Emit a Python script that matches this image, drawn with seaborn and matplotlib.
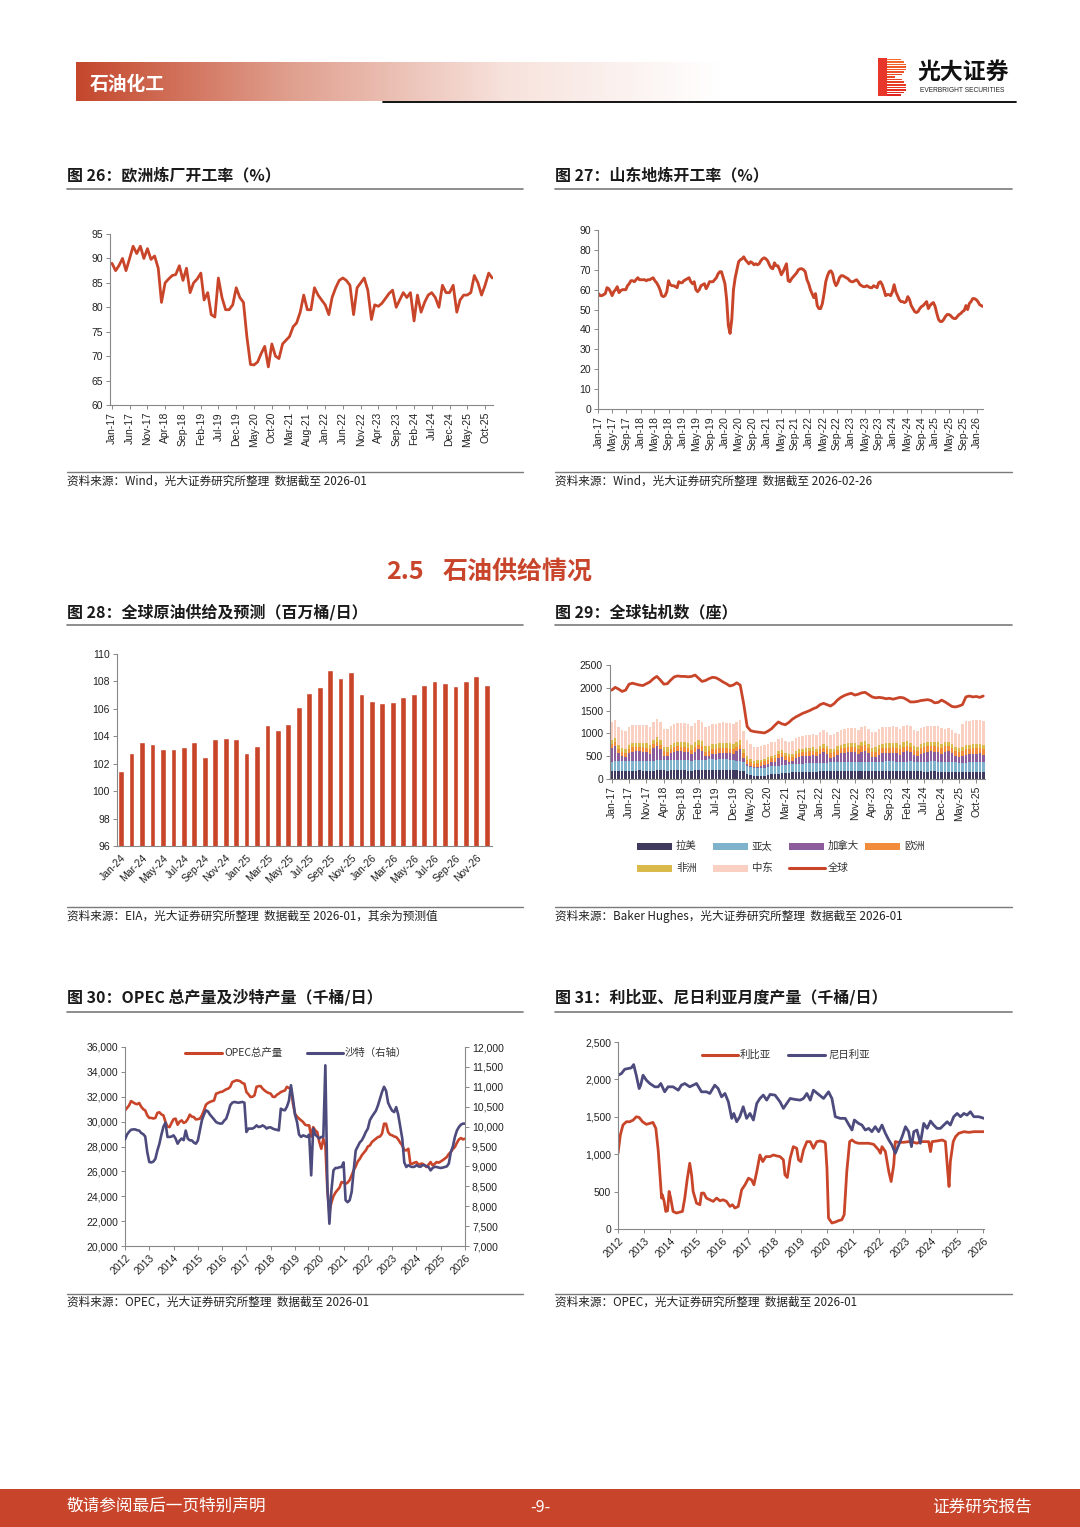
import numpy as np
import pandas as pd
import matplotlib
matplotlib.use('Agg')
import matplotlib.pyplot as plt
import matplotlib.dates as mdates
from matplotlib.patches import Rectangle
from matplotlib.lines import Line2D
from matplotlib.colors import LinearSegmentedColormap
import seaborn as sns

# ---------------- data ----------------
# Fig 26: European refinery utilisation (%), monthly from Jan-2017
eu_util = [89, 87.5, 88.5, 90, 87.5, 90, 92.5, 91, 92.5, 90, 92, 89.8,
           90.5, 88, 81, 85, 85.8, 86.5, 86.7, 88.5, 85.5, 88, 83, 85,
           85.8, 87, 81.5, 83, 78.5, 78, 86, 82, 79.5, 79.5, 80.5, 84,
           82, 81, 74, 68.3, 68.2, 68.8, 70.5, 72, 67.8, 72.5, 70, 69.5,
           72.5, 73.3, 74, 76, 76.8, 79, 82.5, 79.5, 79.5, 84, 82.5, 81.5,
           80.5, 78.5, 82, 84, 85.5, 86, 85.5, 84.5, 78.5, 84, 85, 86,
           83.5, 77.5, 80.5, 80.2, 80.8, 81.8, 82.8, 83.5, 80, 81.5, 83, 82,
           83, 77.2, 82.5, 79, 81, 82.5, 83, 82, 80, 84.5, 83, 83,
           84.5, 79, 81.5, 82.5, 82.5, 83, 86.5, 85, 82.5, 84.5, 87, 86]
eu_start = '2017-01-01'

# Fig 27: Shandong independent refinery utilisation (%), half-monthly readings Jan-2017 .. Feb-2026
sd_util = [58, 57, 57, 57.5, 58, 61, 60.5, 59, 57, 59, 60, 61.5, 58.5, 59.5, 60, 60, 60, 62, 63, 64.5,
           64.5, 64, 65, 66, 65, 65, 65, 65, 64.5, 65, 65, 65.5, 66, 64.5, 63.5, 62, 60, 57, 56.5, 57,
           59, 64.5, 62.5, 62, 62, 61.5, 61, 64, 63.5, 63.5, 64.5, 65, 65.5, 66, 64, 63, 64, 60, 59, 60,
           62, 62.5, 63, 60.5, 62, 64, 64, 64, 65, 66, 68, 69, 69, 66, 63, 55, 42, 38, 45, 60,
           66, 70, 74, 75, 75.5, 76.5, 75, 74, 73, 74, 73.5, 72.5, 73, 72.5, 73, 74.5, 75.5, 76, 75.5, 74.5,
           72.5, 71, 70.5, 73.5, 72, 72, 70, 67.5, 69, 71, 73, 64.5, 64, 65.5, 66.5, 67.5, 68.5, 70, 70.5, 70.5,
           70, 69, 65, 63, 60, 58, 56, 58, 52, 50.5, 50.5, 53, 58, 64, 67, 69, 69.5, 68, 64, 62,
           63.5, 66, 67, 67, 66.5, 66, 65.5, 64.5, 64, 64, 64.5, 65, 64, 62.5, 62, 61.5, 61.5, 62, 61.5, 61,
           61, 62, 61.5, 61, 63.5, 64, 62.5, 60, 57, 57.5, 57.5, 57, 59, 62.5, 59, 57, 55, 54, 54, 53.5,
           54, 56.5, 55, 52, 50.5, 49, 48.5, 49, 50.5, 51.5, 52, 53, 54, 50.5, 52, 53, 53.5, 51.5, 48, 45,
           44, 44, 45, 46.5, 47.5, 47.5, 47, 46, 45.5, 45.5, 46.5, 47.5, 48, 49, 49.5, 52, 50, 53, 54, 55.5,
           55.5, 55, 54, 52.5, 52, 51.5]
sd_start, sd_end = '2017-01-01', '2026-02-20'

# Fig 28: global crude supply and forecast (mb/d)
supply_months = ['Jan-24', 'Feb-24', 'Mar-24', 'Apr-24', 'May-24', 'Jun-24', 'Jul-24', 'Aug-24', 'Sep-24',
                 'Oct-24', 'Nov-24', 'Dec-24', 'Jan-25', 'Feb-25', 'Mar-25', 'Apr-25', 'May-25', 'Jun-25',
                 'Jul-25', 'Aug-25', 'Sep-25', 'Oct-25', 'Nov-25', 'Dec-25', 'Jan-26', 'Feb-26', 'Mar-26',
                 'Apr-26', 'May-26', 'Jun-26', 'Jul-26', 'Aug-26', 'Sep-26', 'Oct-26', 'Nov-26', 'Dec-26']
supply_vals = [101.5, 102.8, 103.55, 103.45, 103.1, 103.1, 103.2, 103.6, 102.5, 103.8, 103.9, 103.8,
               102.8, 103.3, 104.8, 104.45, 104.9, 106.15, 107.15, 107.6, 108.8, 108.25, 108.7, 107.1,
               106.6, 106.4, 106.5, 106.9, 107.1, 107.75, 108.0, 107.9, 107.7, 108.0, 108.4, 107.75]

# Fig 29: global rig count, monthly Jan-2017 .. Dec-2025
rig_latam = [180, 182, 185, 182, 178, 180, 182, 185, 188, 185, 180, 175,
             185, 188, 190, 190, 185, 188, 190, 192, 190, 188, 185, 180,
             195, 200, 202, 200, 205, 205, 202, 205, 208, 205, 200, 195,
             190, 185, 165, 110, 80, 65, 62, 68, 75, 88, 100, 110,
             120, 128, 135, 140, 145, 150, 150, 152, 158, 160, 162, 160,
             165, 168, 170, 172, 175, 175, 178, 178, 180, 178, 175, 172,
             172, 175, 175, 172, 170, 168, 170, 172, 172, 170, 168, 165,
             168, 170, 170, 168, 165, 165, 162, 162, 165, 165, 162, 160,
             160, 162, 160, 158, 155, 155, 152, 155, 155, 158, 158, 155]
rig_apac = [200, 202, 205, 205, 208, 210, 210, 212, 212, 215, 215, 212,
            215, 218, 220, 222, 222, 225, 222, 220, 222, 225, 224, 220,
            218, 220, 222, 225, 228, 228, 225, 225, 228, 225, 222, 218,
            215, 212, 200, 185, 178, 172, 170, 170, 172, 175, 178, 178,
            172, 175, 178, 178, 180, 182, 182, 185, 185, 188, 188, 185,
            185, 188, 190, 192, 192, 195, 195, 198, 198, 200, 200, 198,
            200, 202, 205, 205, 208, 210, 210, 212, 212, 215, 212, 210,
            212, 212, 215, 215, 218, 218, 218, 220, 220, 220, 218, 215,
            212, 210, 210, 208, 205, 205, 205, 208, 210, 210, 212, 210]
rig_canada = [300, 340, 170, 110, 100, 170, 210, 220, 210, 200, 200, 170,
              270, 320, 250, 95, 90, 150, 190, 210, 200, 190, 180, 140,
              190, 230, 190, 80, 70, 110, 130, 140, 145, 150, 145, 135,
              200, 250, 100, 30, 20, 20, 40, 50, 60, 70, 85, 90,
              170, 180, 100, 60, 70, 120, 150, 160, 160, 160, 170, 150,
              200, 230, 190, 100, 110, 160, 190, 200, 210, 210, 210, 180,
              230, 245, 180, 100, 100, 150, 180, 190, 190, 190, 190, 160,
              210, 230, 200, 140, 120, 170, 200, 220, 220, 210, 210, 180,
              230, 245, 200, 130, 120, 150, 180, 180, 190, 190, 190, 170]
rig_europe = [92, 95, 98, 95, 92, 90, 92, 95, 95, 98, 95, 92,
              92, 95, 95, 98, 100, 98, 95, 92, 95, 98, 100, 98,
              100, 102, 100, 98, 102, 105, 105, 102, 100, 98, 100, 102,
              100, 98, 95, 90, 85, 82, 80, 82, 85, 88, 90, 88,
              90, 92, 95, 98, 95, 95, 98, 100, 100, 102, 100, 98,
              100, 102, 105, 105, 108, 110, 108, 110, 112, 112, 110, 110,
              112, 115, 115, 118, 118, 120, 118, 115, 115, 118, 118, 115,
              118, 120, 120, 118, 118, 120, 122, 120, 118, 118, 120, 118,
              115, 115, 118, 118, 115, 112, 112, 115, 115, 118, 118, 115]
rig_africa = [80, 82, 82, 85, 85, 85, 88, 88, 90, 90, 90, 88,
              88, 90, 90, 92, 95, 95, 95, 98, 98, 100, 100, 98,
              105, 108, 110, 112, 115, 115, 115, 118, 115, 115, 112, 110,
              105, 108, 95, 80, 65, 58, 55, 52, 52, 55, 58, 60,
              60, 62, 65, 65, 68, 68, 70, 70, 72, 72, 75, 75,
              75, 78, 78, 80, 82, 85, 85, 85, 88, 90, 90, 88,
              90, 92, 92, 95, 95, 98, 98, 95, 95, 98, 98, 95,
              95, 92, 92, 90, 90, 90, 88, 88, 90, 90, 92, 90,
              90, 90, 88, 88, 90, 90, 92, 92, 95, 95, 95, 92]
rig_mideast = [395, 392, 390, 392, 395, 395, 398, 395, 392, 395, 398, 395,
               398, 400, 402, 405, 408, 410, 412, 415, 418, 420, 420, 420,
               425, 428, 430, 432, 435, 438, 440, 442, 445, 445, 445, 442,
               445, 450, 400, 350, 330, 315, 305, 300, 298, 295, 292, 290,
               265, 265, 268, 270, 272, 275, 278, 280, 285, 288, 290, 292,
               300, 305, 308, 310, 312, 315, 318, 320, 322, 325, 325, 325,
               330, 335, 340, 345, 350, 355, 360, 362, 365, 365, 365, 362,
               360, 358, 355, 352, 350, 352, 355, 355, 352, 350, 350, 348,
               300, 300, 302, 305, 310, 500, 520, 525, 525, 528, 530, 528]
rig_global = [1950, 2010, 1970, 1920, 1950, 2080, 2100, 2080, 2060, 2050, 2090, 2130,
              2200, 2250, 2170, 2080, 2090, 2170, 2240, 2260, 2250, 2250, 2240, 2250,
              2280, 2210, 2140, 2160, 2200, 2230, 2220, 2180, 2130, 2090, 2040, 2060,
              2110, 2060, 1650, 1150, 1060, 1040, 1030, 1020, 1010, 1050, 1100, 1180,
              1250, 1210, 1190, 1240, 1310, 1360, 1400, 1440, 1470, 1500, 1540, 1570,
              1630, 1660, 1630, 1600, 1650, 1730, 1790, 1830, 1860, 1880, 1840, 1860,
              1890, 1900, 1850, 1800, 1780, 1790, 1780, 1760, 1770, 1750, 1770, 1790,
              1780, 1740, 1690, 1690, 1700, 1720, 1730, 1740, 1720, 1670, 1680, 1730,
              1690, 1640, 1590, 1580, 1600, 1630, 1800, 1820, 1800, 1810, 1790, 1820]
rig_names = ['拉美', '亚太', '加拿大', '欧洲', '非洲', '中东', '全球']
rig_start = '2017-01-01'

# Fig 30: OPEC total and Saudi production (kb/d), monthly Jan-2012 .. Jan-2026
opec_total = [30900, 31100, 31300, 31650, 31550, 31450, 31400, 31500, 31200, 31000, 30900, 30500,
              30300, 30300, 30250, 30300, 30700, 30750, 30580, 30500, 29970, 29600, 29560, 29900,
              30200, 30240, 29750, 30000, 30100, 29900, 29970, 30200, 30560, 30400, 30370, 30180,
              30200, 30240, 30500, 30900, 31360, 31500, 31580, 31650, 31700, 32250, 32300, 32380,
              32400, 32500, 32600, 32650, 32800, 33180, 33250, 33320, 33300, 33240, 33100, 33050,
              32380, 32200, 31980, 32000, 32120, 32800, 32850, 32860, 32650, 32500, 32380, 32300,
              32250, 32000, 31980, 32150, 32250, 32380, 32450, 32500, 32800, 32700, 32650, 31440,
              30640, 30400, 30240, 30100, 29970, 29750, 29700, 29700, 28800, 29560, 29300, 29160,
              28360, 27820, 28630, 28100, 24500, 22730, 23500, 24000, 24300, 24500, 24700, 25140,
              25100, 25000, 25100, 25300, 25680, 26100, 26400, 26800, 27000, 27290, 27500, 27690,
              28000, 28090, 28360, 28500, 28630, 28760, 28800, 29030, 29830, 29830, 29160, 28950,
              28900, 28800, 28760, 28570, 28300, 28090, 27700, 27690, 27820, 26620, 26620, 26700,
              26750, 26540, 26600, 26620, 26500, 26350, 26550, 26750, 26480, 26600, 26750, 26700,
              26800, 26900, 27020, 27150, 27400, 27560, 27800, 27960, 28300, 28570, 28680, 28570,
              28630]
saudi = [9680, 9800, 9870, 9920, 9930, 9930, 9910, 9900, 9840, 9810, 9750, 9360,
         9110, 9100, 9120, 9190, 9400, 9570, 9800, 10000, 10100, 9740, 9740, 9750,
         9780, 9700, 9570, 9650, 9700, 9660, 9900, 9700, 9655, 9655, 9600, 9570,
         9650, 9900, 10160, 10300, 10410, 10380, 10300, 10240, 10180, 10115, 10090, 10075,
         10080, 10150, 10200, 10350, 10535, 10600, 10620, 10610, 10600, 10610, 10620, 10600,
         9865, 9950, 9950, 9950, 9980, 10030, 9990, 10000, 10030, 10000, 9950, 9980,
         9980, 9950, 9930, 9920, 9905, 10450, 10420, 10410, 10500, 10650, 11040, 10700,
         10300, 10115, 9800, 9740, 9780, 9760, 9740, 9800, 8775, 9950, 9800, 9750,
         9700, 9740, 9740, 11540, 8500, 7560, 8400, 8900, 8960, 8960, 8980, 8985,
         9100, 8150, 8100, 8150, 8360, 8900, 9400, 9500, 9600, 9655, 9750, 9865,
         9950, 10160, 10250, 10325, 10400, 10535, 10700, 10870, 11000, 10900, 10600, 10490,
         10400, 10365, 10490, 10300, 10000, 9700, 9100, 8985, 9030, 9000, 8985, 8990,
         9030, 9000, 8990, 9030, 9030, 9000, 8985, 8900, 8960, 8990, 8985, 8970,
         8960, 8970, 8985, 9000, 9070, 9360, 9500, 9740, 9900, 9990, 10050, 10075,
         10075]
years30 = [str(y) for y in range(2012, 2027)]

# Fig 31: Libya / Nigeria monthly production (kb/d), time in decimal years
libya_t = [2012.00, 2012.09, 2012.19, 2012.32, 2012.45, 2012.58, 2012.70, 2012.81, 2012.94, 2013.09,
           2013.22, 2013.34, 2013.45, 2013.54, 2013.60, 2013.67, 2013.70, 2013.77, 2013.83, 2013.90,
           2013.96, 2014.02, 2014.11, 2014.24, 2014.37, 2014.47, 2014.56, 2014.65, 2014.75, 2014.82,
           2014.88, 2015.01, 2015.14, 2015.20, 2015.29, 2015.39, 2015.52, 2015.65, 2015.78, 2015.91,
           2016.03, 2016.16, 2016.29, 2016.39, 2016.48, 2016.61, 2016.74, 2016.87, 2017.00, 2017.12,
           2017.21, 2017.32, 2017.44, 2017.55, 2017.67, 2017.83, 2017.96, 2018.08, 2018.21, 2018.34,
           2018.40, 2018.49, 2018.60, 2018.72, 2018.85, 2018.92, 2019.01, 2019.11, 2019.24, 2019.37,
           2019.49, 2019.62, 2019.75, 2019.88, 2019.95, 2020.01, 2020.07, 2020.20, 2020.33, 2020.45,
           2020.58, 2020.67, 2020.77, 2020.88, 2020.97, 2021.09, 2021.22, 2021.41, 2021.61, 2021.80,
           2021.99, 2022.06, 2022.12, 2022.25, 2022.38, 2022.47, 2022.57, 2022.63, 2022.76, 2022.95,
           2023.14, 2023.34, 2023.46, 2023.59, 2023.78, 2023.91, 2023.98, 2024.04, 2024.23, 2024.43,
           2024.55, 2024.64, 2024.69, 2024.74, 2024.85, 2024.94, 2025.06, 2025.26, 2025.45, 2025.64,
           2025.88, 2026.03]
libya_v = [1012, 1257, 1390, 1434, 1434, 1456, 1500, 1492, 1434, 1399,
           1412, 1425, 1345, 1057, 768, 413, 457, 369, 235, 244,
           502, 413, 235, 213, 226, 235, 413, 657, 879, 724,
           502, 346, 324, 480, 480, 413, 391, 369, 413, 377,
           391, 369, 302, 324, 280, 302, 524, 591, 679, 657,
           591, 768, 990, 901, 968, 968, 990, 977, 968, 924,
           724, 688, 946, 1101, 1079, 924, 901, 1057, 1168, 1168,
           1079, 1168, 1177, 1168, 1146, 813, 147, 80, 93, 111,
           124, 191, 768, 1168, 1190, 1159, 1146, 1146, 1146, 1132,
           1057, 1012, 1101, 1035, 768, 635, 857, 1168, 1159, 1159,
           1168, 1159, 1146, 1168, 1168, 1168, 1035, 1168, 1177, 1190,
           1168, 768, 568, 901, 1168, 1234, 1279, 1301, 1292, 1301,
           1301, 1301]
nigeria_t = [2012.00, 2012.13, 2012.26, 2012.38, 2012.51, 2012.60, 2012.70, 2012.81, 2012.87, 2012.96,
             2013.09, 2013.22, 2013.41, 2013.54, 2013.64, 2013.79, 2013.92, 2014.11, 2014.31, 2014.43,
             2014.56, 2014.75, 2015.01, 2015.20, 2015.39, 2015.52, 2015.71, 2015.84, 2015.97, 2016.10,
             2016.23, 2016.36, 2016.44, 2016.55, 2016.67, 2016.80, 2016.93, 2017.06, 2017.19, 2017.32,
             2017.44, 2017.57, 2017.70, 2017.83, 2018.02, 2018.21, 2018.34, 2018.47, 2018.60, 2018.79,
             2018.98, 2019.11, 2019.24, 2019.37, 2019.49, 2019.69, 2019.88, 2020.07, 2020.20, 2020.33,
             2020.52, 2020.71, 2020.84, 2020.97, 2021.06, 2021.22, 2021.35, 2021.48, 2021.61, 2021.73,
             2021.86, 2021.99, 2022.12, 2022.25, 2022.38, 2022.50, 2022.63, 2022.76, 2022.89, 2023.02,
             2023.14, 2023.25, 2023.34, 2023.46, 2023.59, 2023.72, 2023.85, 2023.98, 2024.10, 2024.23,
             2024.36, 2024.49, 2024.62, 2024.74, 2024.87, 2025.00, 2025.13, 2025.26, 2025.38, 2025.51,
             2025.64, 2025.83, 2026.03]
nigeria_v = [2056, 2078, 2136, 2145, 2154, 2198, 2056, 1878, 1923, 2056,
             1989, 1945, 1901, 1901, 1945, 1834, 1901, 1901, 1856, 1923,
             1945, 1901, 1945, 1834, 1834, 1812, 1923, 1878, 1767, 1812,
             1701, 1479, 1545, 1434, 1501, 1634, 1479, 1545, 1457, 1679,
             1745, 1790, 1723, 1799, 1790, 1701, 1612, 1679, 1745, 1732,
             1723, 1745, 1812, 1723, 1856, 1799, 1745, 1834, 1745, 1501,
             1479, 1479, 1399, 1323, 1457, 1412, 1390, 1323, 1345, 1301,
             1368, 1301, 1390, 1279, 1190, 1123, 1012, 1123, 1234, 1368,
             1301, 1101, 1301, 1323, 1146, 1412, 1345, 1443, 1390, 1345,
             1345, 1390, 1434, 1390, 1501, 1545, 1501, 1545, 1523, 1568,
             1501, 1501, 1479]
years31 = list(range(2012, 2027))

# ---------------- styling ----------------
RED = '#C9452A'
NAVY = '#4D4B7D'
GREY = '#808080'
STACK_COLORS = ['#403B5E', '#7FB3CB', '#8C5C9C', '#F08C3A', '#DBBA4C', '#FAD0C3']

sns.set_theme(style='ticks')
plt.rcParams['font.family'] = ['Liberation Sans', 'Noto Sans CJK SC', 'DejaVu Sans']
plt.rcParams['axes.unicode_minus'] = False
CJK = ['Noto Sans CJK SC', 'DejaVu Sans']

W, H = 1080, 1527
fig = plt.figure(figsize=(W / 100, H / 100), dpi=100)


def axpx(l, t, r, b):
    return fig.add_axes([l / W, 1 - b / H, (r - l) / W, (b - t) / H])


def ftext(x, y, s, **kw):
    kw.setdefault('va', 'center')
    kw.setdefault('family', CJK)
    fig.text(x / W, 1 - y / H, s, **kw)


def hline(x0, x1, y, color=GREY, lw=1.0):
    fig.add_artist(Line2D([x0 / W, x1 / W], [1 - y / H, 1 - y / H], color=color, lw=lw))


def style(ax, right=False):
    ax.set_facecolor('none')
    ax.grid(False)
    ax.spines['top'].set_visible(False)
    ax.spines['right'].set_visible(right)
    for s in ['left', 'bottom', 'right']:
        ax.spines[s].set_color('#888888')
        ax.spines[s].set_linewidth(0.8)
    ax.tick_params(axis='both', which='both', length=3, width=0.7, color='#888888',
                   labelsize=7.5, labelcolor='#222222', pad=2, direction='out')
    ax.set_xlabel('')
    ax.set_ylabel('')


def panel_frame(x0, x1, ytitle, yline, ysrc_line, ysrc, title, source):
    ftext(x0, ytitle, title, fontsize=11.5, fontweight='bold', color='#1a1a1a')
    hline(x0, x1, yline, color='#7a7a7a', lw=1.2)
    hline(x0, x1, ysrc_line, color='#7a7a7a', lw=1.0)
    ftext(x0, ysrc, source, fontsize=8.4, color='#222222')


# ---------------- header ----------------
axh = axpx(76, 62, 720, 101)
cmap = LinearSegmentedColormap.from_list('hdr', ['#C4472C', '#E0A08F', '#F7E2DC', '#FFFFFF'])
axh.imshow(np.linspace(0, 1, 256).reshape(1, -1), aspect='auto', cmap=cmap, extent=[0, 1, 0, 1])
axh.axis('off')
ftext(90, 84, '石油化工', fontsize=13.5, fontweight='bold', color='white')
hline(383, 1016, 102, color='black', lw=1.3)

# logo
fig.add_artist(Rectangle((878 / W, 1 - 96 / H), 9 / W, 38 / H, color='#E8362A', lw=0))
for k in range(15):
    y = 58.5 + k * 2.55
    frac = k / 14
    yc = 67 if y < 77 else 87
    r = 9.5
    d = min(1.0, abs(y + 0.6 - yc) / r)
    length = 8 + 11 * np.sqrt(max(0.0, 1 - d * d))
    col = (0.96 - 0.08 * frac, 0.42 - 0.28 * frac, 0.17 - 0.05 * frac)
    fig.add_artist(Rectangle((887 / W, 1 - (y + 1.5) / H), length / W, 1.5 / H, color=col, lw=0))
ftext(917, 73, '光大证券', fontsize=16.5, fontweight='bold', color='#111111')
ftext(920, 90, 'EVERBRIGHT SECURITIES', fontsize=4.8, color='#222222', family=['Liberation Sans'])

# ---------------- Fig 26 ----------------
panel_frame(67, 523, 175, 189, 472, 481, '图 26：欧洲炼厂开工率（%）',
            '资料来源：Wind，光大证券研究所整理  数据截至 2026-01')
ax = axpx(110, 234, 493, 405)
eu_dates = pd.date_range(eu_start, periods=len(eu_util), freq='MS')
sns.lineplot(x=eu_dates, y=eu_util, ax=ax, color=RED, linewidth=2.0)
style(ax)
ax.set_ylim(60, 95)
ax.set_yticks(range(60, 96, 5))
t26 = pd.date_range(eu_start, eu_dates[-1], freq='5MS')
ax.set_xticks(mdates.date2num(t26))
ax.set_xticklabels([d.strftime('%b-%y') for d in t26], rotation=90)
ax.set_xlim(mdates.date2num(pd.Timestamp('2016-12-15')), mdates.date2num(pd.Timestamp('2025-12-08')))

# ---------------- Fig 27 ----------------
panel_frame(555, 1012, 175, 189, 472, 481, '图 27：山东地炼开工率（%）',
            '资料来源：Wind，光大证券研究所整理  数据截至 2026-02-26')
ax = axpx(598, 230, 983, 409)
sd_dates = pd.date_range(sd_start, sd_end, periods=len(sd_util))
sns.lineplot(x=sd_dates, y=sd_util, ax=ax, color=RED, linewidth=2.1)
style(ax)
ax.set_ylim(0, 90)
ax.set_yticks(range(0, 91, 10))
t27 = pd.date_range(sd_start, '2026-01-01', freq='4MS')
ax.set_xticks(mdates.date2num(t27))
ax.set_xticklabels([d.strftime('%b-%y') for d in t27], rotation=90)
ax.set_xlim(mdates.date2num(pd.Timestamp('2016-12-28')), mdates.date2num(pd.Timestamp(sd_end)))

# ---------------- section title ----------------
ftext(386, 572, '2.5', fontsize=18, fontweight='bold', color='#C8452B')
ftext(443, 572, '石油供给情况', fontsize=18, fontweight='bold', color='#C8452B')

# ---------------- Fig 28 ----------------
panel_frame(67, 523, 612, 625, 907, 916, '图 28：全球原油供给及预测（百万桶/日）',
            '资料来源：EIA，光大证券研究所整理  数据截至 2026-01，其余为预测值')
ax = axpx(117, 654, 492, 846)
sns.barplot(x=supply_months, y=supply_vals, color=RED, saturation=1, width=0.55, ax=ax)
style(ax)
ax.set_ylim(96, 110)
ax.set_yticks(range(96, 111, 2))
ax.set_xticks(range(0, len(supply_months), 2))
ax.set_xticklabels(supply_months[::2], rotation=45, ha='right', rotation_mode='anchor')
ax.tick_params(axis='x', length=0, pad=5)
ax.set_xlim(-0.4, len(supply_months) - 0.5)

# ---------------- Fig 29 ----------------
panel_frame(555, 1012, 612, 625, 907, 916, '图 29：全球钻机数（座）',
            '资料来源：Baker Hughes，光大证券研究所整理  数据截至 2026-01')
ax = axpx(610, 665, 985, 779)
xr = np.arange(len(rig_global))
stack = [rig_latam, rig_apac, rig_canada, rig_europe, rig_africa, rig_mideast]
bottom = np.zeros(len(xr))
for vals, col in zip(stack, STACK_COLORS):
    ax.bar(xr, vals, bottom=bottom, width=0.72, color=col, linewidth=0)
    bottom = bottom + np.array(vals)
sns.lineplot(x=xr, y=rig_global, ax=ax, color=RED, linewidth=2.0)
style(ax)
ax.set_ylim(0, 2500)
ax.set_yticks(range(0, 2501, 500))
rig_dates = pd.date_range(rig_start, periods=len(rig_global), freq='MS')
ax.set_xticks(xr[::5])
ax.set_xticklabels([d.strftime('%b-%y') for d in rig_dates[::5]], rotation=90)
ax.set_xlim(-0.5, len(xr) - 0.5)

# legend (fig 29)
leg_x = [637, 713, 789, 865]
for i, (name, col) in enumerate(zip(rig_names[:4], STACK_COLORS[:4])):
    fig.add_artist(Rectangle((leg_x[i] / W, 1 - 849.5 / H), 35 / W, 7 / H, color=col, lw=0))
    ftext(leg_x[i] + 39, 846, name, fontsize=7.5, color='#333333')
for i, (name, col) in enumerate(zip(rig_names[4:6], STACK_COLORS[4:6])):
    fig.add_artist(Rectangle((leg_x[i] / W, 1 - 871.5 / H), 35 / W, 7 / H, color=col, lw=0))
    ftext(leg_x[i] + 39, 868, name, fontsize=7.5, color='#333333')
hline(789, 825, 868, color=RED, lw=2.2)
ftext(828, 868, rig_names[6], fontsize=7.5, color='#333333')

# ---------------- Fig 30 ----------------
panel_frame(67, 523, 997, 1012, 1294, 1302, '图 30：OPEC 总产量及沙特产量（千桶/日）',
            '资料来源：OPEC，光大证券研究所整理  数据截至 2026-01')
ax = axpx(125, 1047, 465, 1246)
m30 = np.arange(len(opec_total))
sns.lineplot(x=m30, y=opec_total, ax=ax, color=RED, linewidth=1.9)
style(ax)
ax.set_ylim(20000, 36000)
ax.set_yticks(range(20000, 36001, 2000))
ax.set_yticklabels([f'{v:,}' for v in range(20000, 36001, 2000)])
ax.set_xlim(0, len(m30) - 1)
ax.set_xticks(range(0, len(m30), 12))
ax.set_xticklabels(years30, rotation=45, ha='right', rotation_mode='anchor')
ax2 = ax.twinx()
sns.lineplot(x=m30, y=saudi, ax=ax2, color=NAVY, linewidth=1.9)
style(ax2, right=True)
ax2.spines['left'].set_visible(False)
ax2.spines['bottom'].set_visible(False)
ax2.set_ylim(7000, 12000)
ax2.set_yticks(range(7000, 12001, 500))
ax2.set_yticklabels([f'{v:,}' for v in range(7000, 12001, 500)])
ax2.set_xlim(0, len(m30) - 1)
# legend
hline(185, 222, 1053, color=RED, lw=2.2)
ftext(224, 1053, 'OPEC总产量', fontsize=7.5, color='#333333')
hline(307, 343, 1053, color=NAVY, lw=2.2)
ftext(345, 1053, '沙特（右轴）', fontsize=7.5, color='#333333')

# ---------------- Fig 31 ----------------
panel_frame(555, 1012, 997, 1012, 1294, 1302, '图 31：利比亚、尼日利亚月度产量（千桶/日）',
            '资料来源：OPEC，光大证券研究所整理  数据截至 2026-01')
ax = axpx(618, 1042, 984, 1229)
sns.lineplot(x=libya_t, y=libya_v, ax=ax, color=RED, linewidth=2.0, estimator=None)
sns.lineplot(x=nigeria_t, y=nigeria_v, ax=ax, color=NAVY, linewidth=2.0, estimator=None)
style(ax)
ax.set_ylim(0, 2500)
ax.set_yticks(range(0, 2501, 500))
ax.set_yticklabels([f'{v:,}' for v in range(0, 2501, 500)])
ax.set_xlim(2012, 2026.03)
ax.set_xticks(years31)
ax.set_xticklabels([str(y) for y in years31], rotation=45, ha='right', rotation_mode='anchor')
hline(702, 738, 1055, color=RED, lw=2.2)
ftext(740, 1055, '利比亚', fontsize=7.5, color='#333333')
hline(788, 825, 1055, color=NAVY, lw=2.2)
ftext(828, 1055, '尼日利亚', fontsize=7.5, color='#333333')

# ---------------- footer ----------------
fig.add_artist(Rectangle((0, 0), 1, (1527 - 1489) / H, color='#C8452B', lw=0))
ftext(67, 1507, '敬请参阅最后一页特别声明', fontsize=12, color='white')
ftext(540, 1507, '-9-', fontsize=11.5, color='white', ha='center')
ftext(1032, 1507, '证券研究报告', fontsize=12, color='white', ha='right')

fig.savefig('out.png', dpi=100)
